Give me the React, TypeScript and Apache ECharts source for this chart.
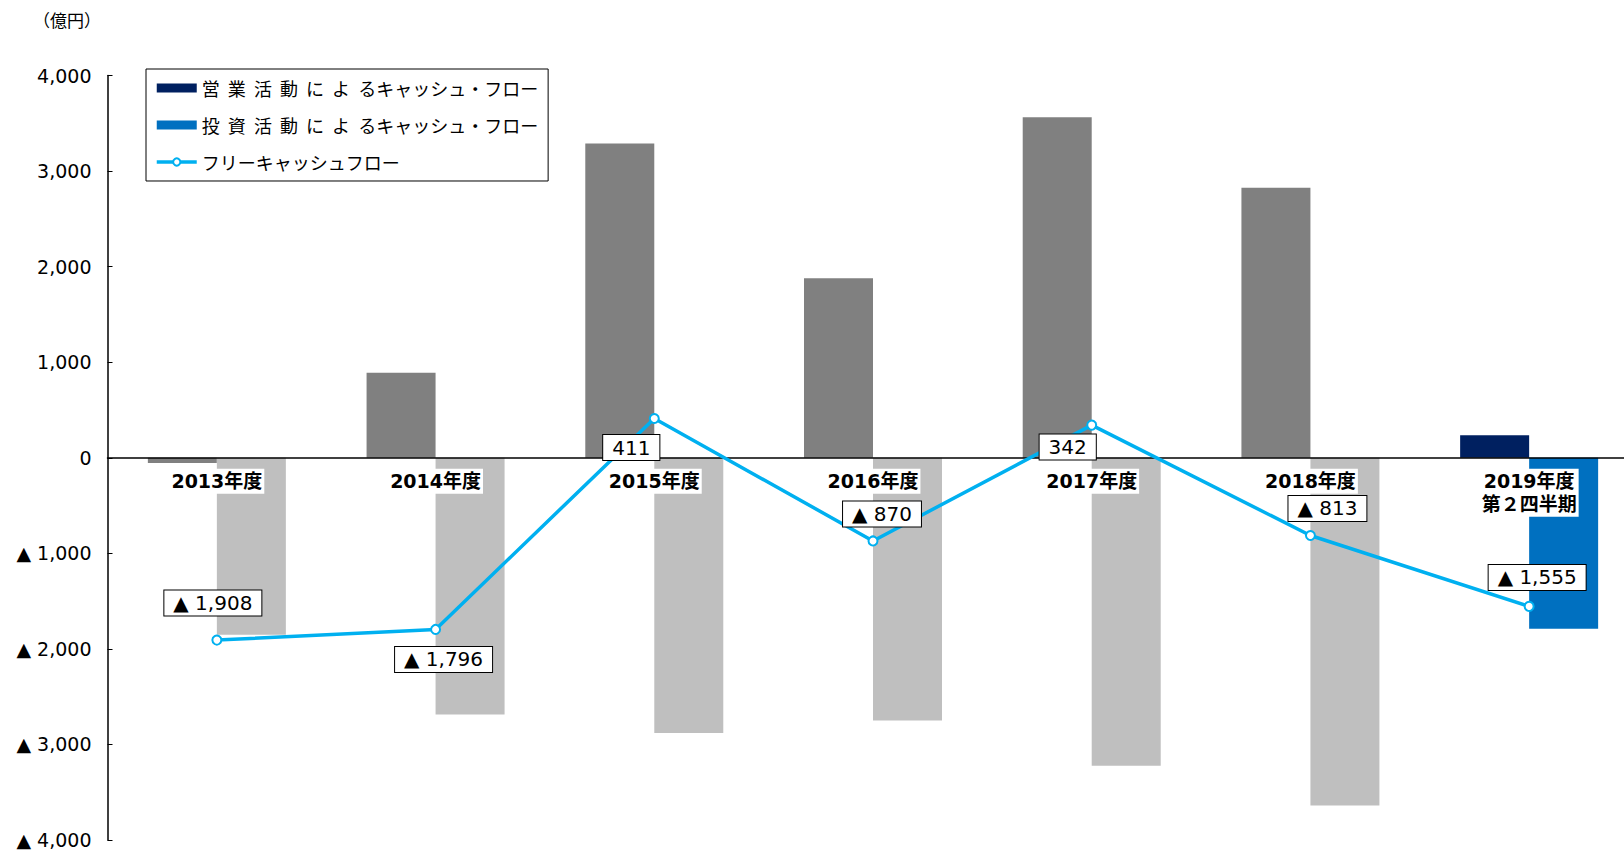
import React, { useEffect, useRef } from "react";
import * as echarts from "echarts";

const categories = [
  "2013年度",
  "2014年度",
  "2015年度",
  "2016年度",
  "2017年度",
  "2018年度",
  "2019年度\n第２四半期",
];
const operatingCF = [-55, 890, 3290, 1880, 3565, 2825, 235];
const investingCF = [-1853, -2686, -2879, -2750, -3223, -3638, -1790];
const freeCF = [-1908, -1796, 411, -870, 342, -813, -1555];

const seriesNames = [
  "営  業  活  動  に  よ  るキャッシュ・フロー",
  "投  資  活  動  に  よ  るキャッシュ・フロー",
  "フリーキャッシュフロー",
];

const Y_MIN = -4000;
const Y_MAX = 4000;

// label offsets (dx, dy) from each free-cash-flow point
const labelOffsets = [
  [-4, -37],
  [8, 30],
  [-23, 29],
  [9, -27],
  [-24, 22],
  [17, -27],
  [8, -29],
];

const fmt = (v: number) => {
  if (v === 0) return "0";
  const s = Math.abs(v).toLocaleString("en-US");
  return v < 0 ? "▲ " + s : s;
};

const NUM_FONT = "'DejaVu Sans', 'Noto Sans CJK JP', sans-serif";
const JP_FONT = "'Noto Sans CJK JP', sans-serif";

const GRID_TOP = 75.6;
const GRID_H = 764.4;

export default function App() {
  const ref = useRef<HTMLDivElement>(null);
  useEffect(() => {
    if (!ref.current) return;
    const chart = echarts.init(ref.current, null, { renderer: "svg" });
    const last = categories.length - 1;
    // shift the category axis up to the zero line
    const zeroOffset = -(GRID_H * (0 - Y_MIN)) / (Y_MAX - Y_MIN);
    chart.setOption({
      animation: false,
      backgroundColor: "#fff",
      grid: {
        left: 107.5,
        top: GRID_TOP,
        width: 1531,
        height: GRID_H,
        containLabel: false,
        outerBoundsMode: "none",
      },
      graphic: [
        {
          type: "text",
          left: 33,
          top: 11,
          style: {
            text: "（億円）",
            fontSize: 17,
            fontFamily: JP_FONT,
            fill: "#000",
          },
        },
      ],
      legend: {
        orient: "vertical",
        left: 146,
        top: 69,
        padding: [10, 10, 10, 9],
        itemGap: 19,
        itemWidth: 40,
        itemHeight: 9,
        borderColor: "#000",
        borderWidth: 1,
        backgroundColor: "#fff",
        lineStyle: { width: 3.5, color: "#00B0F0" },
        textStyle: { fontSize: 18, fontFamily: JP_FONT, color: "#000" },
        data: [
          { name: seriesNames[0], icon: "rect" },
          { name: seriesNames[1], icon: "rect" },
          { name: seriesNames[2], lineStyle: { width: 3.5, color: "#00B0F0" } },
        ],
      },
      xAxis: {
        type: "category",
        data: categories,
        z: 3,
        position: "bottom",
        offset: zeroOffset,
        axisLine: { onZero: false, lineStyle: { color: "#000", width: 1.5 } },
        axisTick: { inside: true, length: 6, lineStyle: { color: "#000" } },
        axisLabel: {
          interval: 0,
          margin: 11,
          fontSize: 19,
          fontWeight: "bold",
          fontFamily: NUM_FONT,
          color: "#000",
          backgroundColor: "#fff",
          padding: [1, 2],
          lineHeight: 23,
        },
        splitLine: { show: false },
      },
      yAxis: {
        type: "value",
        min: Y_MIN,
        max: Y_MAX,
        interval: 1000,
        axisLine: { show: true, lineStyle: { color: "#000", width: 1.5 } },
        axisTick: { show: true, inside: true, length: 5, lineStyle: { color: "#000" } },
        splitLine: { show: false },
        axisLabel: {
          formatter: (v: number) => fmt(v),
          fontSize: 19,
          fontFamily: NUM_FONT,
          color: "#000",
          margin: 16,
        },
      },
      series: [
        {
          name: seriesNames[0],
          type: "bar",
          barWidth: 69,
          barGap: "0%",
          z: 2,
          itemStyle: { color: "#002060" },
          data: operatingCF.map((v, i) => ({
            value: v,
            itemStyle: { color: i === last ? "#002060" : "#808080" },
          })),
        },
        {
          name: seriesNames[1],
          type: "bar",
          barWidth: 69,
          barGap: "0%",
          z: 2,
          itemStyle: { color: "#0070C0" },
          data: investingCF.map((v, i) => ({
            value: v,
            itemStyle: { color: i === last ? "#0070C0" : "#BFBFBF" },
          })),
        },
        {
          name: seriesNames[2],
          type: "line",
          z: 5,
          symbol: "circle",
          symbolSize: 9,
          lineStyle: { color: "#00B0F0", width: 3.5 },
          itemStyle: { color: "#fff", borderColor: "#00B0F0", borderWidth: 2 },
          data: freeCF.map((v, i) => ({
            value: v,
            label: {
              show: true,
              position: "inside",
              offset: labelOffsets[i],
              formatter: () => fmt(v),
              fontSize: 20,
              fontFamily: NUM_FONT,
              color: "#000",
              backgroundColor: "#fff",
              borderColor: "#000",
              borderWidth: 1,
              padding: [3, 9, 2, 9],
            },
          })),
        },
      ],
    });
    return () => chart.dispose();
  }, []);
  return (
    <div
      ref={ref}
      style={{ position: "fixed", left: 0, top: 0, width: 1624, height: 850 }}
    />
  );
}
